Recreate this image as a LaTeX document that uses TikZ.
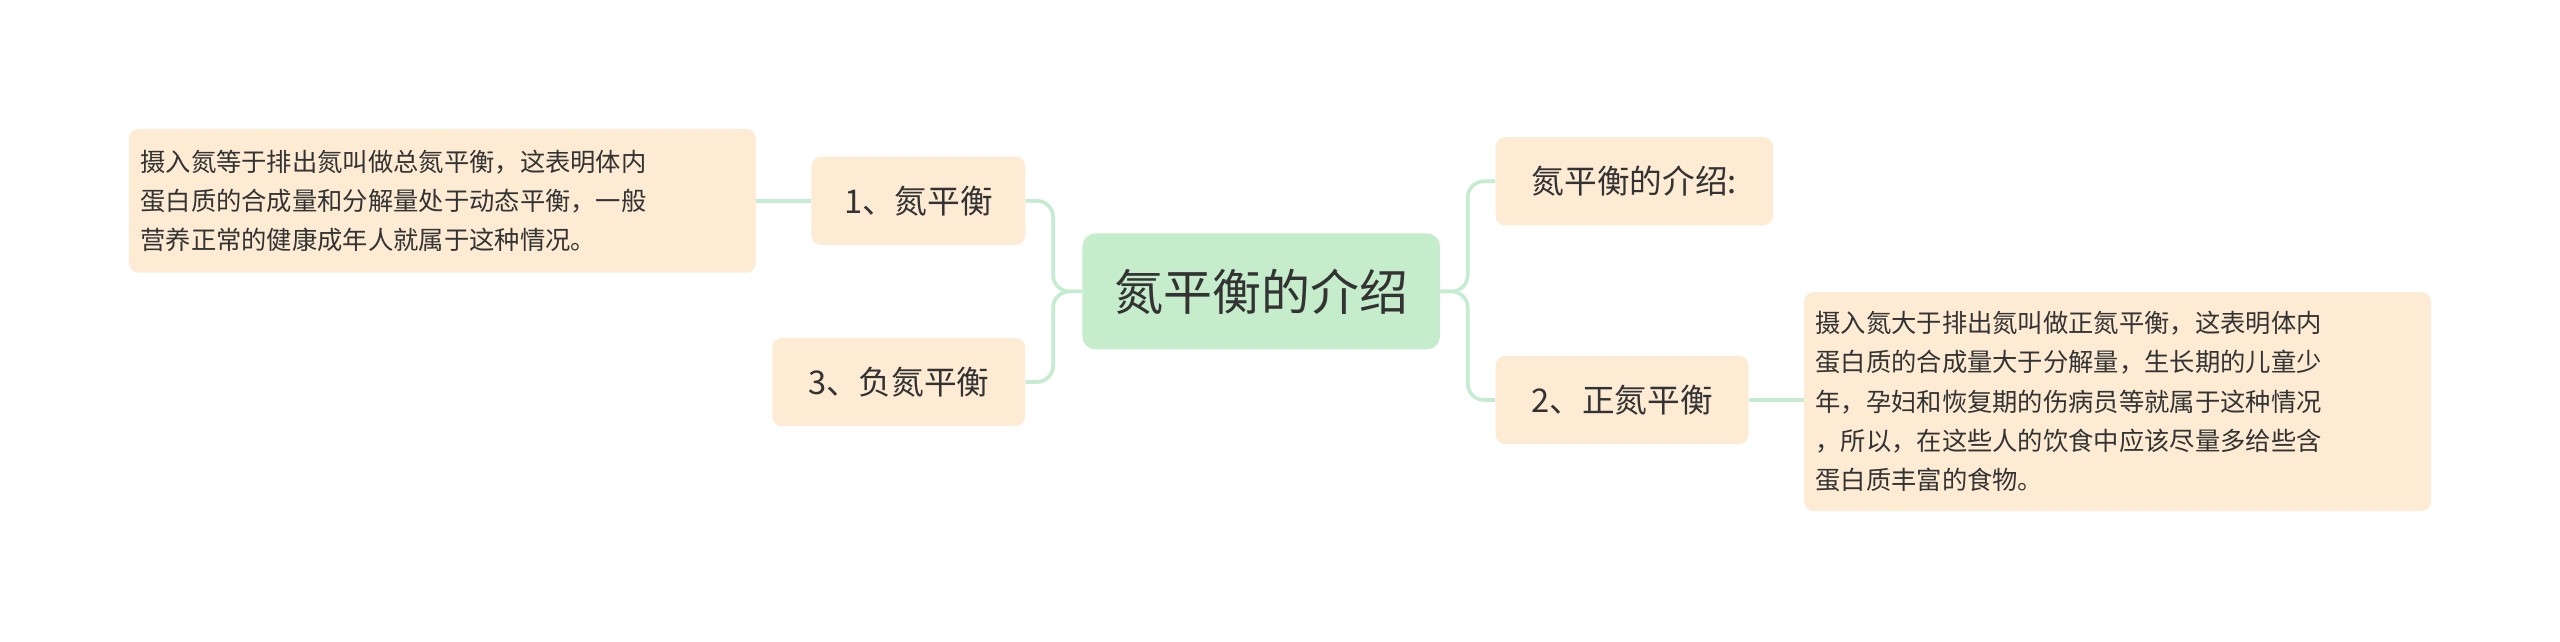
\documentclass[tikz,border=0pt]{standalone}
\usepackage{fontspec}
\setmainfont{Noto Sans CJK SC}
\begin{document}
\begin{tikzpicture}[x=1pt,y=1pt,
  box/.style={fill=peach,rounded corners=6pt,inner sep=0pt,text=txt,font=\fontsize{20}{24}\selectfont},
  para/.style={fill=peach,rounded corners=6pt,inner sep=0pt,text=txt,align=left,font=\fontsize{15.5}{24}\selectfont},
  link/.style={draw=lnk,line width=2.2pt,rounded corners=10pt}]
\definecolor{peach}{HTML}{FDEBD3}
\definecolor{lnk}{HTML}{C5ECD0}
\definecolor{ctr}{HTML}{C5ECCB}
\definecolor{txt}{HTML}{333333}
\useasboundingbox (0,0) rectangle (1568,393);
\fill[white] (0,0) rectangle (1568,393);
% nodes
\node[fill=ctr,rounded corners=8pt,minimum width=219pt,minimum height=71pt,text=txt,font=\fontsize{30}{34}\selectfont] (c) at (772.5,214.5) {氮平衡的介绍};
\node[box,minimum width=131pt,minimum height=54pt] (n1) at (562.5,270) {1、氮平衡};
\node[box,minimum width=155pt,minimum height=54pt] (n3) at (550.5,159) {3、负氮平衡};
\node[box,minimum width=170pt,minimum height=54pt] (n0) at (1001,282) {氮平衡的介绍:};
\node[box,minimum width=155pt,minimum height=54pt] (n2) at (993.5,148) {2、正氮平衡};
\node[para,minimum width=384pt,minimum height=88pt,text width=370pt] (t1) at (271,270) {摄入氮等于排出氮叫做总氮平衡，这表明体内\\蛋白质的合成量和分解量处于动态平衡，一般\\营养正常的健康成年人就属于这种情况。};
\node[para,minimum width=384pt,minimum height=134pt,text width=370pt] (t2) at (1297,147) {摄入氮大于排出氮叫做正氮平衡，这表明体内\\蛋白质的合成量大于分解量，生长期的儿童少\\年，孕妇和恢复期的伤病员等就属于这种情况\\，所以，在这些人的饮食中应该尽量多给些含\\蛋白质丰富的食物。};
% connectors
\draw[link] (c.west) -- (645,214.5) |- (n1.east);
\draw[link] (c.west) -- (645,214.5) |- (n3.east);
\draw[link] (c.east) -- (899,214.5) |- (n0.west);
\draw[link] (c.east) -- (899,214.5) |- (n2.west);
\draw[link] (n1.west) -- (t1.east);
\draw[link] (n2.east) -- (t2.west|-n2.east);
\end{tikzpicture}
\end{document}
